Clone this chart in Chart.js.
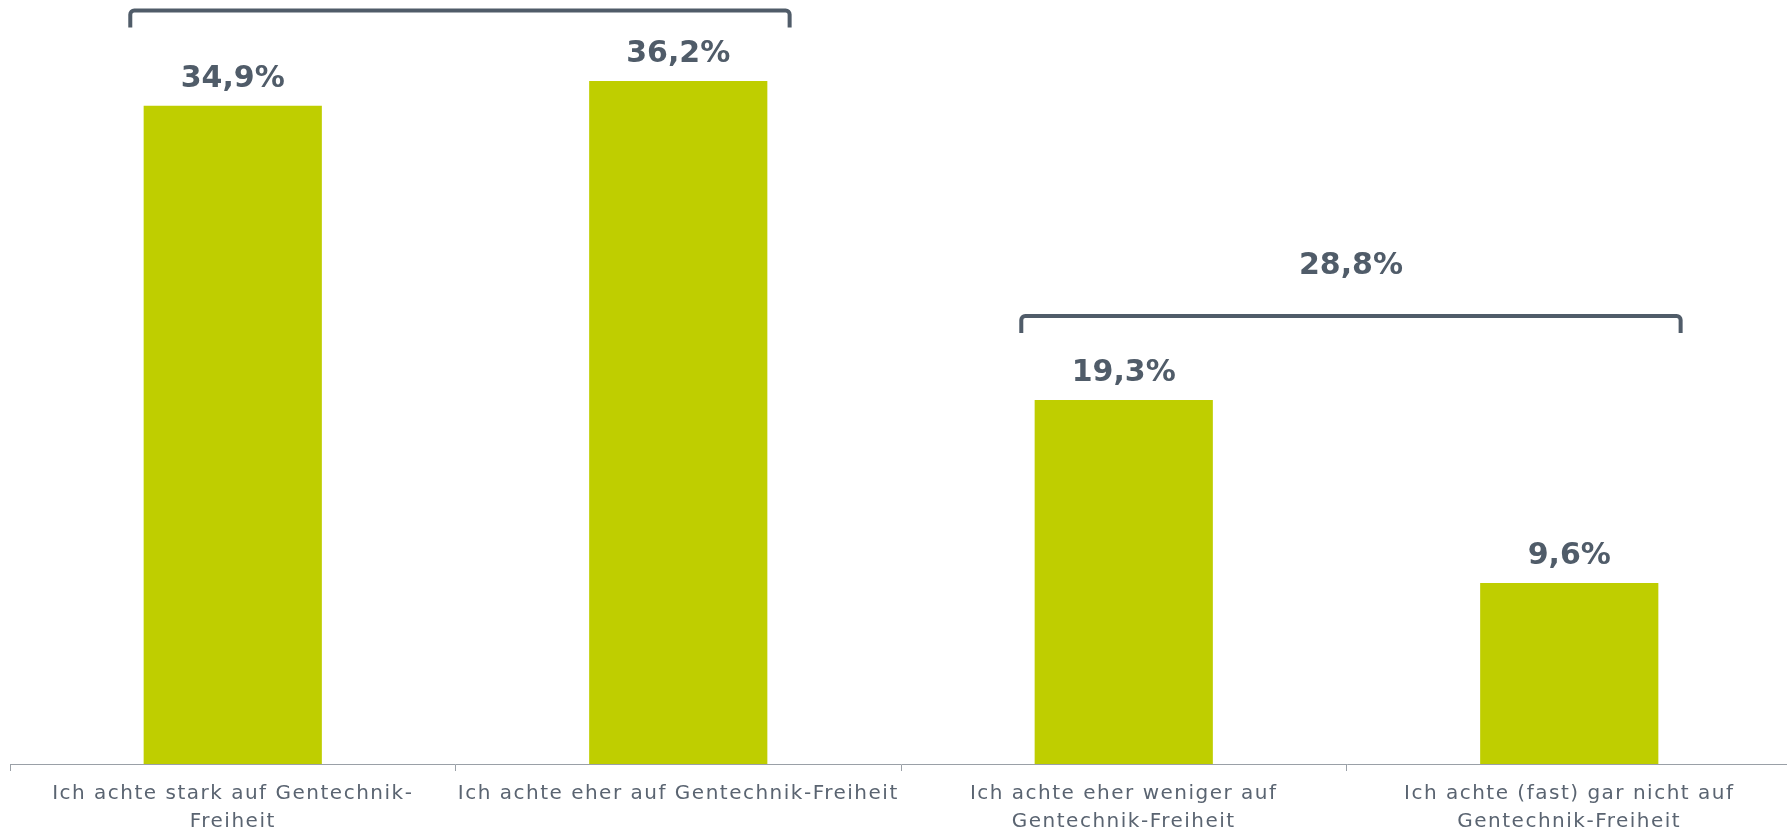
<!DOCTYPE html>
<html lang="de">
<head>
<meta charset="utf-8">
<title>Gentechnik-Freiheit</title>
<script src="https://cdn.jsdelivr.net/npm/chart.js@4.4.1/dist/chart.umd.min.js"></script>
<style>
  html, body { margin: 0; padding: 0; background: #fff; overflow: hidden; }
  #wrap { width: 1795px; height: 836px; }
</style>
</head>
<body>
<div id="wrap"><canvas id="gentechChart" width="1795" height="836"></canvas></div>
<script>
'use strict';

// ---- Data ----
const categories = [
  ['Ich achte stark auf Gentechnik-', 'Freiheit'],
  ['Ich achte eher auf Gentechnik-Freiheit'],
  ['Ich achte eher weniger auf', 'Gentechnik-Freiheit'],
  ['Ich achte (fast) gar nicht auf', 'Gentechnik-Freiheit'],
];
const shares = [34.9, 36.2, 19.3, 9.6];

// grouped totals shown above the brackets (first/last category index of each group)
const groupFrom   = [0, 2];
const groupTo     = [1, 3];
const groupTotals = [71.1, 28.8];
const groupLevels = [39.95, 23.75];   // bracket height in axis units

// ---- Style ----
const COLORS = {
  bar:   '#bfce00',
  label: '#505c69',
  axis:  '#9aa0a7',
  tick:  '#5a6471',
};

const fmt = v => v.toFixed(1).replace('.', ',') + '%';

// spaced-out category text on the x axis
const tickSpacing = {
  id: 'tickSpacing',
  beforeDraw(chart) { chart.ctx.letterSpacing = '1.5px'; },
  beforeDatasetsDraw(chart) { chart.ctx.letterSpacing = '0px'; },
};

// value labels over each bar
const valueLabels = {
  id: 'valueLabels',
  afterDatasetsDraw(chart) {
    const { ctx } = chart;
    const meta = chart.getDatasetMeta(0);
    ctx.save();
    ctx.letterSpacing = '0px';
    ctx.fillStyle = COLORS.label;
    ctx.font = "bold 30px 'DejaVu Sans', Verdana, sans-serif";
    ctx.textAlign = 'center';
    ctx.textBaseline = 'alphabetic';
    meta.data.forEach((bar, i) => {
      ctx.fillText(fmt(shares[i]), bar.x, bar.y - 19);
    });
    ctx.restore();
  }
};

// brackets spanning groups of bars, with the group total above
const groupBrackets = {
  id: 'groupBrackets',
  afterDatasetsDraw(chart) {
    const { ctx, scales: { x, y } } = chart;
    const cw = x.getPixelForValue(1) - x.getPixelForValue(0);
    const leg = 17, r = 4;
    ctx.save();
    ctx.letterSpacing = '0px';
    ctx.strokeStyle = COLORS.label;
    ctx.lineWidth = 4;
    ctx.lineCap = 'butt';
    groupFrom.forEach((from, g) => {
      const x0 = x.getPixelForValue(from) - 0.23 * cw;
      const x1 = x.getPixelForValue(groupTo[g]) + 0.25 * cw;
      const yy = y.getPixelForValue(groupLevels[g]);
      ctx.beginPath();
      ctx.moveTo(x0, yy + leg);
      ctx.arcTo(x0, yy, x0 + r, yy, r);
      ctx.arcTo(x1, yy, x1, yy + r, r);
      ctx.lineTo(x1, yy + leg);
      ctx.stroke();

      const ty = yy - 42;
      if (ty > 0) {
        ctx.fillStyle = COLORS.label;
        ctx.font = "bold 30px 'DejaVu Sans', Verdana, sans-serif";
        ctx.textAlign = 'center';
        ctx.fillText(fmt(groupTotals[g]), (x0 + x1) / 2, ty);
      }
    });
    ctx.restore();
  }
};

new Chart(document.getElementById('gentechChart'), {
  type: 'bar',
  data: {
    labels: categories,
    datasets: [{
      data: shares,
      backgroundColor: COLORS.bar,
      borderWidth: 0,
      categoryPercentage: 1,
      barPercentage: 0.4,
    }]
  },
  options: {
    responsive: false,
    animation: false,
    layout: { padding: { left: 10, right: 3, top: 0, bottom: 0 } },
    plugins: { legend: { display: false }, tooltip: { enabled: false } },
    scales: {
      x: {
        afterFit: s => { s.height = 72; },
        grid: {
          offset: true,
          drawOnChartArea: false,
          drawTicks: true,
          tickLength: 7,
          color: COLORS.axis,
        },
        border: { display: true, color: COLORS.axis, width: 1 },
        ticks: {
          color: COLORS.tick,
          padding: 9,
          maxRotation: 0,
          autoSkip: false,
          font: { family: "'DejaVu Sans', Verdana, sans-serif", size: 20, lineHeight: 1.4 },
        },
      },
      y: {
        display: false,
        min: 0,
        max: 40.5,
      },
    },
  },
  plugins: [tickSpacing, valueLabels, groupBrackets],
});
</script>
</body>
</html>
